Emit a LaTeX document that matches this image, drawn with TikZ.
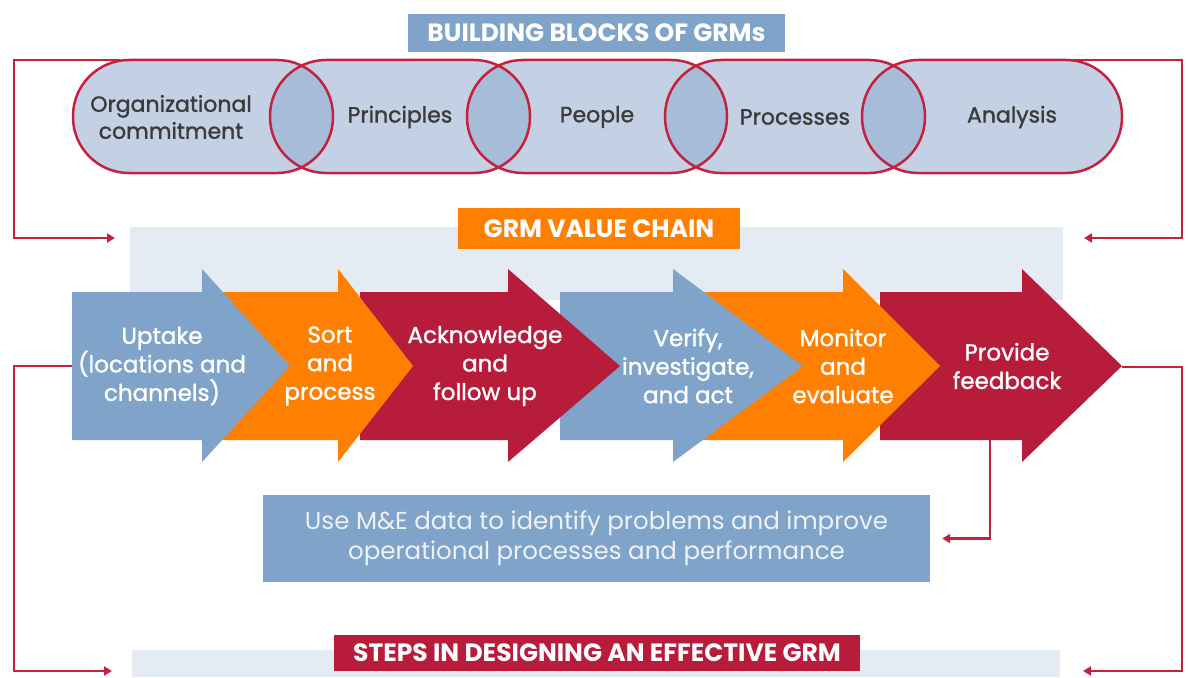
\documentclass[tikz,border=0pt]{standalone}
\usepackage{fontspec}
\setmainfont{Poppins}
\newfontfamily\medfont[FakeBold=1.3]{Poppins}
\usetikzlibrary{arrows.meta}
\definecolor{steel}{HTML}{7FA3C9}
\definecolor{orng}{HTML}{FF7F00}
\definecolor{crim}{HTML}{B71C3B}
\definecolor{pillfill}{HTML}{C4D1E4}
\definecolor{lensfill}{HTML}{A7BCD8}
\definecolor{framered}{HTML}{C4213F}
\definecolor{panel}{HTML}{E4EBF3}
\definecolor{darktext}{HTML}{3B3B3B}
\definecolor{metext}{HTML}{EEF2F8}
\begin{document}
\begin{tikzpicture}[x=1pt,y=-1pt,
  pilltext/.style={text=darktext, font=\medfont\fontsize{22}{27}\selectfont, align=center, inner sep=0pt},
  arrowtext/.style={text=white, font=\medfont\fontsize{23}{28.5}\selectfont, align=center, inner sep=0pt},
  titlebox/.style={text=white, font=\bfseries\fontsize{25}{28}\selectfont, inner sep=0pt},
  conn/.style={draw=framered, line width=2.5pt, -{Triangle[length=8pt,width=9pt]}},
  pillline/.style={draw=framered, line width=2.5pt},
  pillshape/.style={rounded corners=56pt}]
\useasboundingbox (0,0) rectangle (1188,677);
\fill[white] (0,0) rectangle (1188,677);

% panels
\fill[panel] (130,227) rectangle (1063,300);
\fill[panel] (132,650) rectangle (1060,677);

% pills
\foreach \s in {73,270,467,665,862}
  \fill[pillfill, pillshape] (\s,60) rectangle ++(260,113);
\foreach \s/\t in {73/270,270/467,467/665,665/862}{
  \begin{scope}
    \clip[pillshape] (\s,60) rectangle ++(260,113);
    \fill[lensfill, pillshape] (\t,60) rectangle ++(260,113);
  \end{scope}}

% frame connectors (top)
\coordinate (pl) at (120,60);
\coordinate (pr) at (1070,60);
\coordinate (vcl) at (115,238);
\coordinate (vcr) at (1084,238);
\draw[conn] (pl) -- (14,60) |- (vcl);
\draw[conn] (pr) -- (1182,60) |- (vcr);

\foreach \s in {73,270,467,665,862}
  \draw[pillline, pillshape] (\s,60) rectangle ++(260,113);

\node[pilltext] (b1) at (171,117) {Organizational\\commitment};
\node[pilltext] (b2) at (400,117) {Principles};
\node[pilltext] (b3) at (597,117) {People};
\node[pilltext] (b4) at (795,117) {Processes};
\node[pilltext] (b5) at (1012,117) {Analysis};

% titles
\node[titlebox, fill=steel, minimum width=377pt, minimum height=38pt] (bb) at (596.5,33) {BUILDING BLOCKS OF GRMs};
\node[titlebox, fill=orng, minimum width=282pt, minimum height=41pt] (vc) at (599,228.5) {GRM VALUE CHAIN};

% value chain arrows (drawn back to front)
\foreach \xl/\hb/\tp/\c in {880/1022/1122/crim, 700/843/940/orng, 560/673/803/steel, 360/508/620/crim, 200/338/413/orng, 72/202/290/steel}
  \fill[\c] (\xl,292) -- (\hb,292) -- (\hb,269) -- (\tp,366) -- (\hb,462) -- (\hb,440) -- (\xl,440) -- cycle;

\node[arrowtext] (a1) at (162,366) {Uptake\\(locations and\\channels)};
\node[arrowtext] (a2) at (330,366) {Sort\\and\\process};
\node[arrowtext] (a3) at (485,366) {Acknowledge\\and\\follow up};
\node[arrowtext] (a4) at (688,366) {Verify,\\investigate,\\and act};
\node[arrowtext] (a5) at (843,366) {Monitor\\and\\evaluate};
\node[arrowtext] (a6) at (1007,366) {Provide\\feedback};

% M&E box
\node[fill=steel, minimum width=667pt, minimum height=87pt, text=metext, align=center,
      font=\fontsize{24.5}{30}\selectfont, inner sep=0pt] (me) at (596.5,538.5)
      {Use M\&E data to identify problems and improve\\operational processes and performance};

% lower connectors
\coordinate (a1l) at (72,366);
\coordinate (a6t) at (1122,367);
\coordinate (a6b) at (990,440);
\coordinate (stl) at (112,671);
\coordinate (str) at (1083,671);
\draw[conn] (a1l) -- (14,366) |- (stl);
\draw[conn] (a6t) -- (1182,367) |- (str);
\draw[conn, shorten >=12pt] (a6b) |- (me.east);

% steps title
\node[titlebox, fill=crim, minimum width=526pt, minimum height=36pt] (st) at (597,653) {STEPS IN DESIGNING AN EFFECTIVE GRM};
\end{tikzpicture}
\end{document}
